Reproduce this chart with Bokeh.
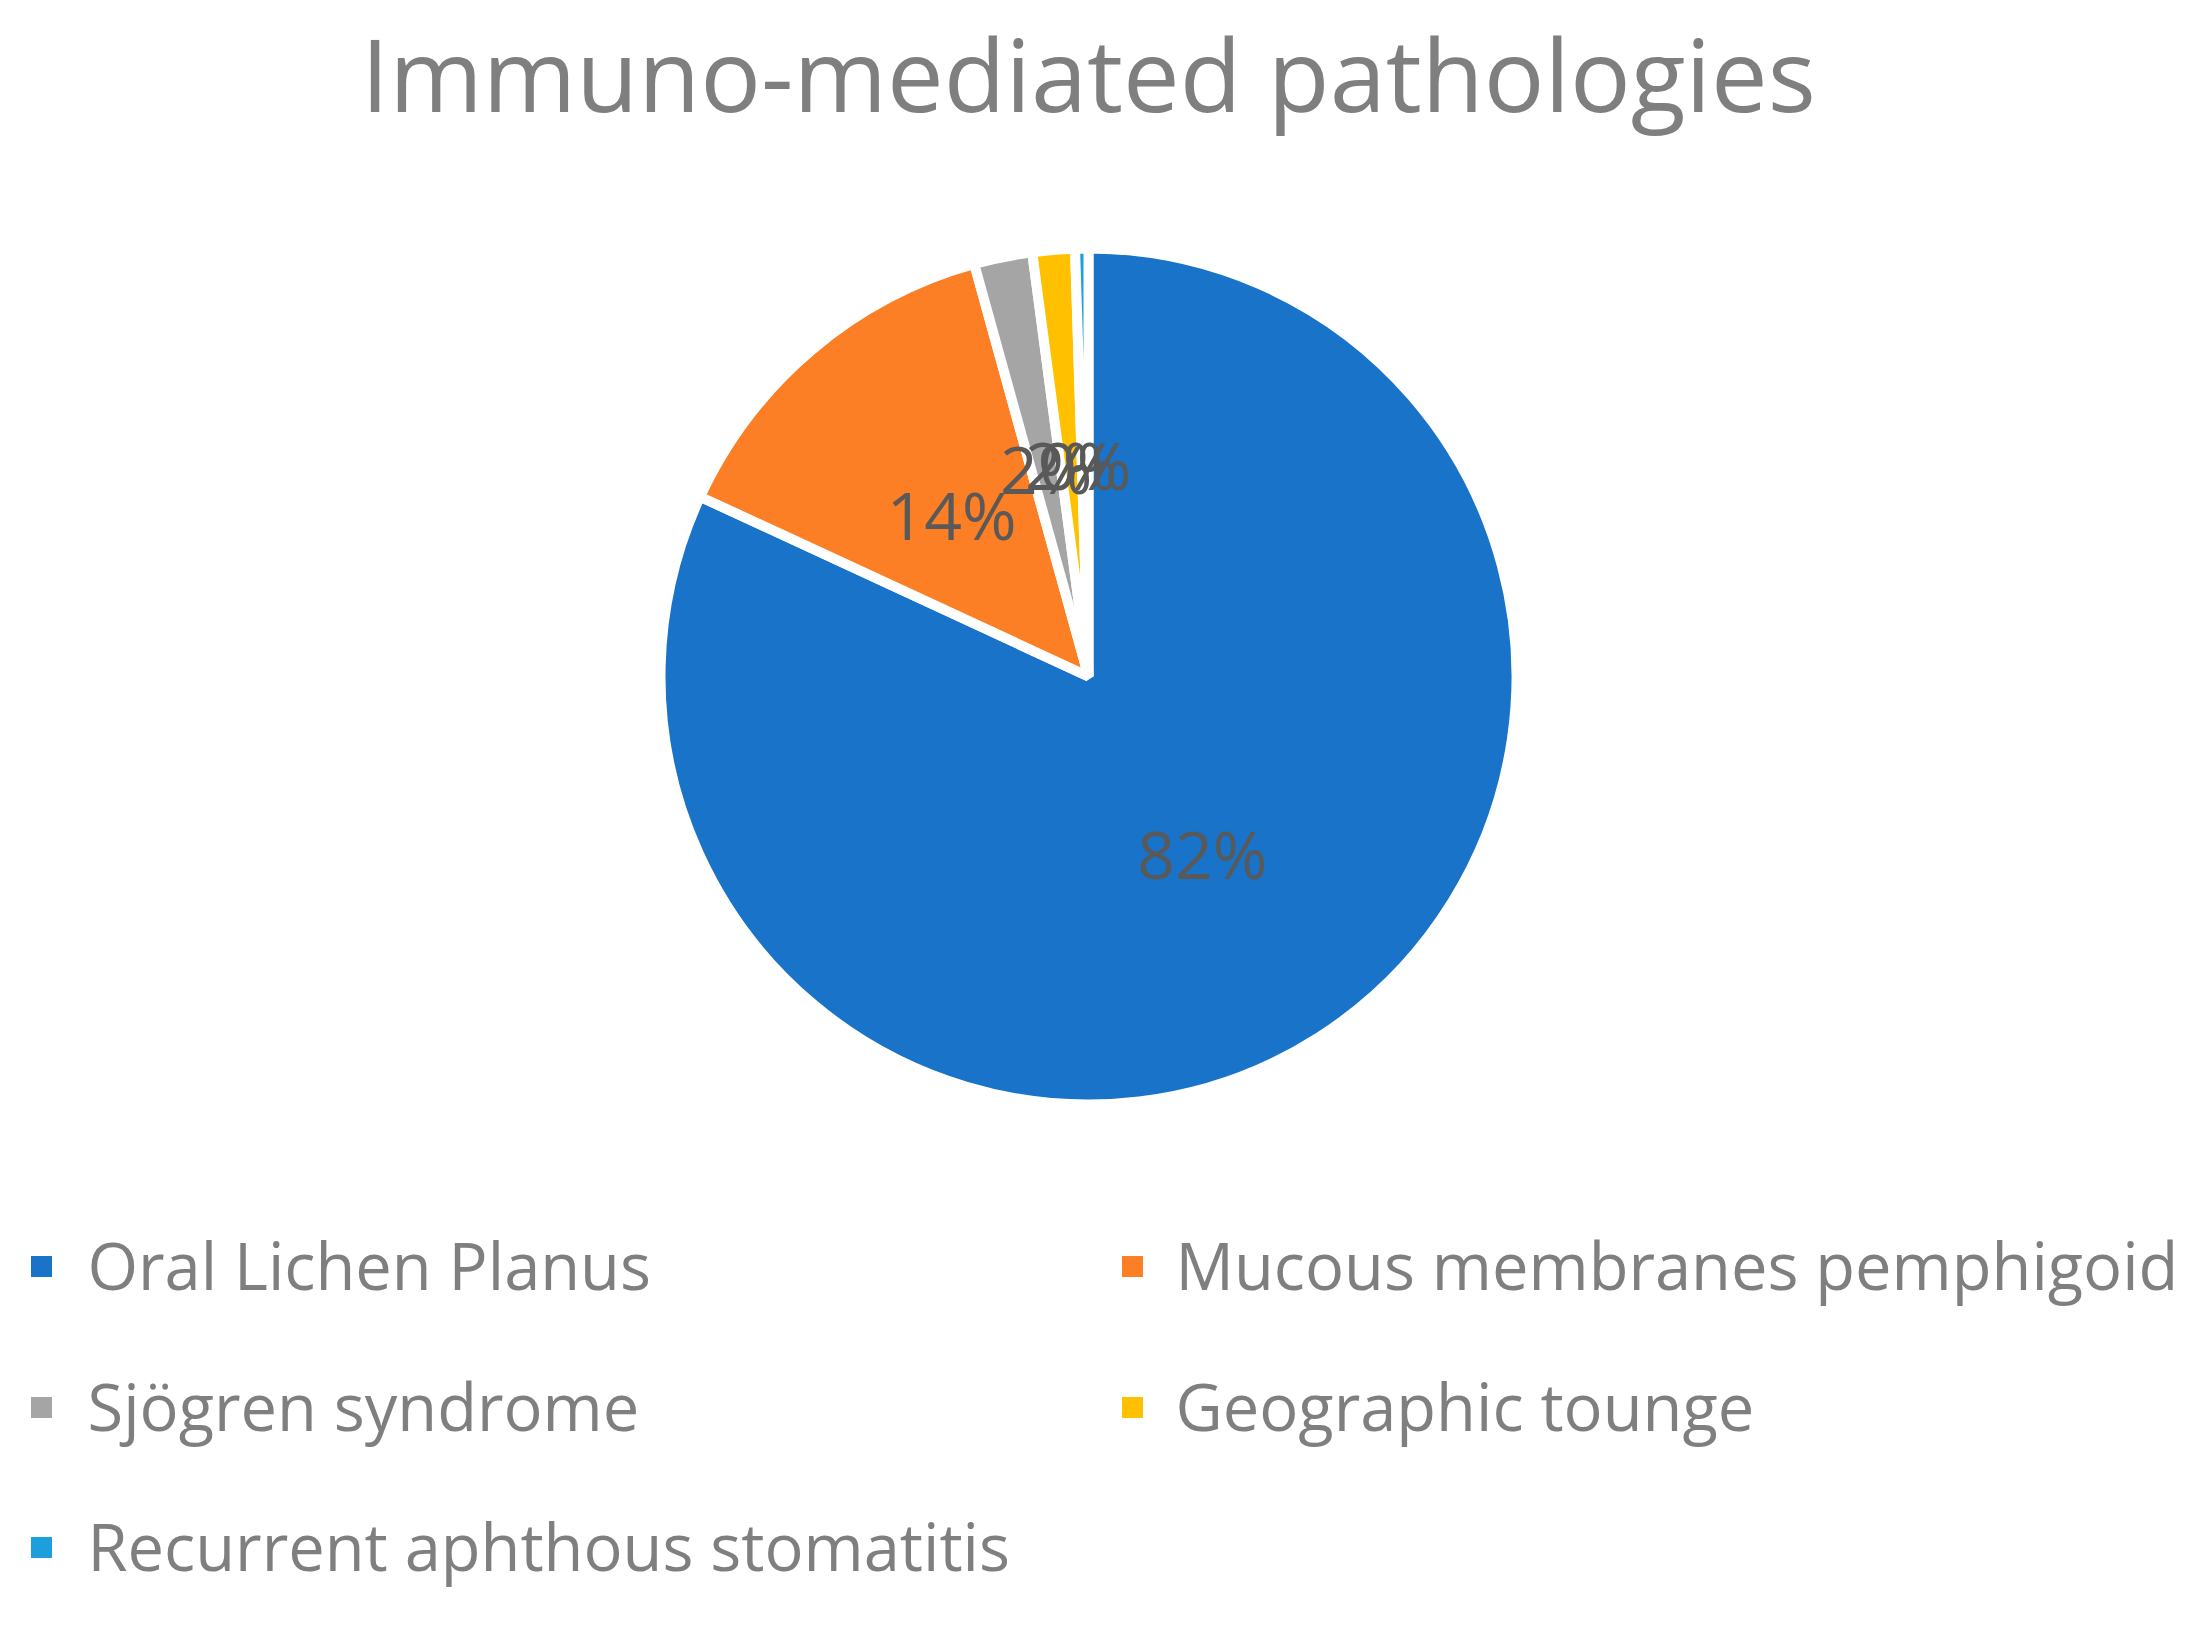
import numpy as np
from bokeh.plotting import figure
from bokeh.models import Range1d, ColumnDataSource
from bokeh.core.properties import value
from bokeh.embed import file_html
from bokeh.resources import INLINE

# ---- data ----
chart_title = "Immuno-mediated pathologies"
categories = ["Oral Lichen Planus", "Mucous membranes pemphigoid", "Sjögren syndrome",
              "Geographic tounge", "Recurrent aphthous stomatitis"]
shares = [81.9, 13.8, 2.2, 1.6, 0.5]
colors = ["#1873C9", "#FD7F25", "#A5A5A5", "#FFC000", "#1C9FDB"]

# ---- layout ----
W, H = 2195, 1610
PAGE_H = 1626
FONT = "Open Sans"
BASE_K = 0.40  # shift so that the glyph baseline lands where wanted


def Y(py):
    return PAGE_H - py


p = figure(width=W, height=H, x_range=Range1d(0, W), y_range=Range1d(Y(H), Y(0)),
           output_backend="svg", toolbar_location=None, min_border=0,
           x_axis_type=None, y_axis_type=None)
p.grid.visible = False
p.outline_line_color = None
p.background_fill_color = "white"
p.border_fill_color = "white"

# ---- pie ----
cx, cy, R = 1088, Y(676), 423
vals = np.array(shares, dtype=float)
frac = vals / vals.sum()
cum_end = np.cumsum(frac)
cum_start = cum_end - frac
start = np.pi / 2 - 2 * np.pi * cum_end
end = np.pi / 2 - 2 * np.pi * cum_start
mid = (start + end) / 2

src = ColumnDataSource(dict(start=start, end=end, color=colors, cat=categories))
p.wedge(x=cx, y=cy, radius=R + 5, start_angle="start", end_angle="end",
        fill_color="color", line_color="white", line_width=10, source=src)

labels = [f"{round(v / vals.sum() * 100):.0f}%" for v in vals]
lr = 0.5 * R
LBL = 66
lsrc = ColumnDataSource(dict(x=cx + lr * np.cos(mid),
                             y=cy + lr * np.sin(mid) - 25 + BASE_K * LBL, t=labels))
p.text(x="x", y="y", text="t", source=lsrc, text_font=value(FONT), text_font_size=f"{LBL}px",
       text_color="#595959", text_align="center", text_baseline="alphabetic")

# ---- title ----
TT = 101
p.text(x=[1088], y=[Y(113) + BASE_K * TT], text=[chart_title], text_font=value(FONT),
       text_font_size=f"{TT}px", text_color="#7F7F7F", text_align="center",
       text_baseline="alphabetic")

# ---- legend ----
LG = 65
marker_x = [41, 1132]
text_x = [87, 1175]
row_base = [1290, 1431, 1571]
mx, my, tx, ty = [], [], [], []
for i, c in enumerate(categories):
    r, col = divmod(i, 2)
    mx.append(marker_x[col]); my.append(Y(row_base[r] - 24))
    tx.append(text_x[col]); ty.append(Y(row_base[r]) + BASE_K * LG)
p.rect(x=mx, y=my, width=21, height=21, fill_color=colors, line_color=None)
p.text(x=tx, y=ty, text=categories, text_font=value(FONT), text_font_size=f"{LG}px",
       text_color="#7F7F7F", text_align="left", text_baseline="alphabetic")

open("out.html", "w").write(file_html(p, INLINE))
